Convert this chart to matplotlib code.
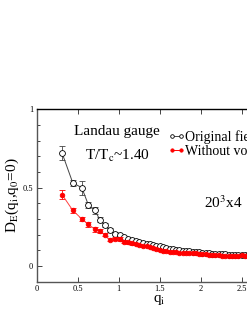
import matplotlib
matplotlib.use("Agg")
import matplotlib.pyplot as plt
from matplotlib.lines import Line2D
from matplotlib.ticker import MultipleLocator

plt.rcParams['font.family'] = ['Liberation Serif', 'DejaVu Serif']
plt.rcParams['mathtext.fontset'] = 'stix'

# lattice momenta q_i
q = [0.31, 0.44, 0.55, 0.63, 0.71, 0.77, 0.83, 0.89, 0.95, 1.01, 1.06, 1.11,
     1.16, 1.21, 1.25, 1.30, 1.34, 1.38, 1.42, 1.46, 1.50, 1.54, 1.58, 1.62,
     1.66, 1.70, 1.74, 1.78, 1.82, 1.86, 1.90, 1.94, 1.98, 2.02, 2.06, 2.10,
     2.14, 2.18, 2.22, 2.26, 2.30, 2.34, 2.38, 2.42, 2.46, 2.50, 2.54, 2.58]

# original field
d_orig = [0.72, 0.53, 0.50, 0.39, 0.355, 0.295, 0.26, 0.23, 0.205, 0.195, 0.185, 0.172,
          0.165, 0.158, 0.152, 0.147, 0.142, 0.138, 0.134, 0.130, 0.126, 0.120, 0.113, 0.110,
          0.107, 0.104, 0.101, 0.098, 0.096, 0.094, 0.092, 0.090, 0.087, 0.084, 0.082, 0.080,
          0.078, 0.077, 0.076, 0.075, 0.074, 0.073, 0.072, 0.072, 0.071, 0.070, 0.070, 0.069]
e_orig = [0.045, 0.02, 0.045, 0.02, 0.02, 0.015, 0.012, 0.01, 0.01, 0.01, 0.008, 0.008,
          0.008, 0.007, 0.007, 0.007, 0.006, 0.006, 0.006, 0.006, 0.006, 0.005, 0.005, 0.005,
          0.005, 0.005, 0.005, 0.005, 0.005, 0.005, 0.005, 0.005, 0.005, 0.005, 0.005, 0.005,
          0.005, 0.005, 0.005, 0.005, 0.005, 0.005, 0.005, 0.005, 0.005, 0.005, 0.005, 0.005]

# without vortices
d_novort = [0.455, 0.355, 0.30, 0.265, 0.235, 0.222, 0.20, 0.167, 0.173, 0.172, 0.156, 0.150,
            0.145, 0.138, 0.135, 0.130, 0.125, 0.120, 0.112, 0.107, 0.103, 0.098, 0.094, 0.092,
            0.090, 0.088, 0.086, 0.085, 0.084, 0.083, 0.081, 0.080, 0.078, 0.076, 0.074, 0.072,
            0.070, 0.069, 0.068, 0.067, 0.066, 0.065, 0.064, 0.066, 0.065, 0.068, 0.066, 0.072]
e_novort = [0.03, 0.015, 0.015, 0.015, 0.015, 0.012, 0.01, 0.01, 0.01, 0.01, 0.008, 0.008,
            0.008, 0.007, 0.007, 0.007, 0.006, 0.006, 0.006, 0.006, 0.006, 0.006, 0.006, 0.006,
            0.006, 0.006, 0.006, 0.006, 0.006, 0.006, 0.006, 0.006, 0.006, 0.006, 0.006, 0.006,
            0.006, 0.006, 0.006, 0.006, 0.006, 0.006, 0.006, 0.006, 0.006, 0.006, 0.006, 0.006]

fig = plt.figure(figsize=(2.47, 3.19), dpi=100)
ax = fig.add_axes([0.1486, 0.117, 0.996, 0.5404])

ax.errorbar(q, d_orig, yerr=e_orig, color='#444444', marker='o', ms=4.2, mfc='white',
            mec='black', mew=0.6, lw=0.7, elinewidth=0.6, capsize=2.2, capthick=0.6,
            zorder=2)
ax.errorbar(q, d_novort, yerr=e_novort, color='#ff4040', marker='o', ms=3.3, mfc='red',
            mec='red', mew=0.6, lw=0.7, elinewidth=0.6, ecolor='red', capsize=2.2,
            capthick=0.6, zorder=3)

ax.set_xlim(0, 3)
ax.set_ylim(-0.1, 1)
ax.set_xticks([0, 0.5, 1, 1.5, 2, 2.5, 3])
ax.set_xticklabels(['0', '0.5', '1', '1.5', '2', '2.5', '3'])
ax.set_yticks([0, 0.5, 1])
ax.set_yticklabels(['0', '0.5', '1'])
ax.yaxis.set_minor_locator(MultipleLocator(0.1))
ax.tick_params(which='both', direction='in', top=True, labelsize=6, pad=2.5, width=0.7,
               color='#444444')
ax.tick_params(which='major', length=3.5)
ax.tick_params(which='minor', length=2)
for s in ax.spines.values():
    s.set_linewidth(1.0)
    s.set_color('#555555')
ax.spines['top'].set_color('black')

ax.set_xlabel('q$_\\mathrm{i}$', fontsize=11, labelpad=0)
ax.set_ylabel('D$_\\mathrm{E}$(q$_\\mathrm{i}$,q$_0$=0)', fontsize=11, labelpad=1)

fig.text(117 / 247, 1 - 132 / 319, 'Landau gauge', fontsize=11, ha='center', va='center')
fig.text(117 / 247, 1 - 156 / 319, 'T/T$_\\mathrm{c}$~1.40', fontsize=11, ha='center',
         va='center')
fig.text(204 / 247, 1 - 203 / 319, '20$^3$x4', fontsize=11, ha='left', va='center')

# legend: marker-line-marker, no error bars
h_orig = Line2D([], [], color='#444444', marker='o', ms=2.6, mfc='white', mec='black',
                mew=0.6, lw=0.7)
h_novort = Line2D([], [], color='red', marker='o', ms=2.4, mfc='red', mec='red',
                  mew=0.6, lw=0.7)
ax.legend([h_orig, h_novort], ['Original field', 'Without vortices'],
          loc='upper left', bbox_to_anchor=(168 / 247, 1 - 130 / 319),
          bbox_transform=fig.transFigure, frameon=False, fontsize=10, numpoints=2,
          handlelength=1.2, handletextpad=0.05, labelspacing=0.1, borderpad=0,
          borderaxespad=0)

fig.savefig('out.png', dpi=100)
